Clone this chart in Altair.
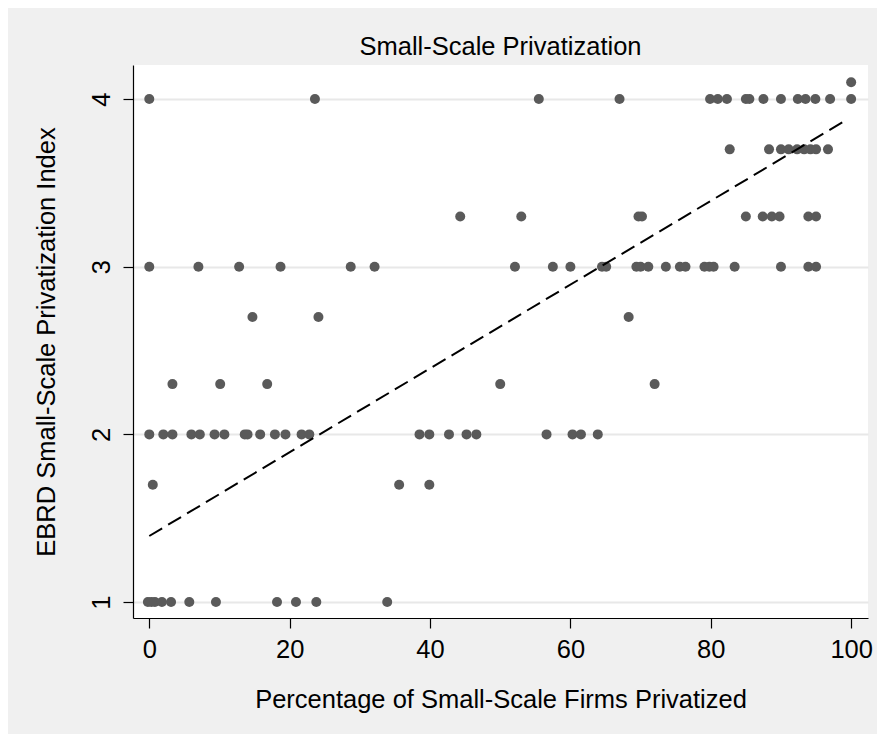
import altair as alt
import pandas as pd

# Scatter data: percentage of small-scale firms privatized vs EBRD index
x_vals = [
    # y = 1
    -0.2, 0.3, 0.8, 1.8, 3.1, 5.7, 9.5, 18.2, 20.9, 23.8, 33.9,
    # y = 1.7
    0.5, 35.6, 39.9,
    # y = 2
    0.0, 2.0, 3.3, 6.0, 7.2, 9.3, 10.7, 13.6, 14.0, 15.8, 17.9, 19.4, 21.7, 22.8,
    38.5, 39.9, 42.7, 45.2, 46.6, 56.6, 60.3, 61.5, 63.9,
    # y = 2.3
    3.3, 10.1, 16.8, 50.0, 72.0,
    # y = 2.7
    14.7, 24.1, 68.3,
    # y = 3
    0.0, 7.0, 12.8, 18.7, 28.7, 32.1, 52.1, 57.5, 60.0, 64.5, 65.1, 69.4, 70.0,
    71.1, 73.6, 75.6, 76.4, 79.1, 79.8, 80.4, 83.4, 90.0, 93.9, 95.0,
    # y = 3.3
    44.3, 53.0, 69.7, 70.2, 85.0, 87.4, 88.7, 89.8, 93.9, 95.0,
    # y = 3.7
    82.7, 88.3, 90.0, 91.1, 92.3, 93.3, 94.2, 95.0, 96.7,
    # y = 4
    0.0, 23.6, 55.5, 67.0, 79.9, 81.0, 82.3, 85.0, 85.5, 87.5, 90.0, 92.4, 93.5,
    94.9, 97.0, 100.0,
    # y = 4.1
    100.0,
]
y_vals = (
    [1.0] * 11 + [1.7] * 3 + [2.0] * 23 + [2.3] * 5 + [2.7] * 3 + [3.0] * 24
    + [3.3] * 10 + [3.7] * 9 + [4.0] * 16 + [4.1] * 1
)

# Fitted line endpoints
fit_x = [0.0, 99.5]
fit_y = [1.394, 3.88]

x_ticks = [0, 20, 40, 60, 80, 100]
y_ticks = [1, 2, 3, 4]

pts = pd.DataFrame({"x": x_vals, "y": y_vals})
fit = pd.DataFrame({"x": fit_x, "y": fit_y})

FONT = "Liberation Sans"
FS = 25.5

xscale = alt.Scale(domain=[-2.32, 102.4], nice=False, zero=False)
yscale = alt.Scale(domain=[0.905, 4.203], nice=False, zero=False)

xaxis = alt.Axis(
    title="Percentage of Small-Scale Firms Privatized",
    values=x_ticks, grid=False, format="d",
    domainColor="black", domainWidth=1.2,
    tickColor="black", tickSize=10, tickWidth=1.2,
    labelFont=FONT, labelFontSize=FS, labelColor="black", labelPadding=9,
    labelFlush=False,
    titleFont=FONT, titleFontSize=FS, titleFontWeight="normal", titleColor="black",
    titlePadding=25,
)
yaxis = alt.Axis(
    title="EBRD Small-Scale Privatization Index",
    values=y_ticks, grid=True, gridColor="#e8e8e8", gridWidth=2, format="d",
    domainColor="black", domainWidth=1.2,
    tickColor="black", tickSize=10, tickWidth=1.2,
    labelFont=FONT, labelFontSize=FS, labelColor="black", labelPadding=9,
    labelAngle=270, labelAlign="center", labelBaseline="bottom", labelFlush=False,
    titleFont=FONT, titleFontSize=FS, titleFontWeight="normal", titleColor="black",
    titlePadding=30,
)

points = alt.Chart(pts).mark_circle(size=100, color="#5a5a5a", opacity=1).encode(
    x=alt.X("x:Q", scale=xscale, axis=xaxis),
    y=alt.Y("y:Q", scale=yscale, axis=yaxis),
)

line = alt.Chart(fit).mark_line(color="black", strokeWidth=2, strokeDash=[15, 7]).encode(
    x=alt.X("x:Q", scale=xscale),
    y=alt.Y("y:Q", scale=yscale),
)

chart = (
    alt.layer(points, line)
    .properties(
        width=735, height=553,
        title=alt.TitleParams(
            "Small-Scale Privatization", font=FONT, fontSize=FS,
            fontWeight="normal", color="black", anchor="middle", offset=5,
        ),
        autosize=alt.AutoSizeParams(type="none"),
        padding={"left": 125, "top": 57, "right": 9, "bottom": 116},
        background="#f0f0f0",
    )
    .configure_view(fill="white", stroke=None)
)

chart.save("out.html", embed_options={"renderer": "svg", "actions": False})
